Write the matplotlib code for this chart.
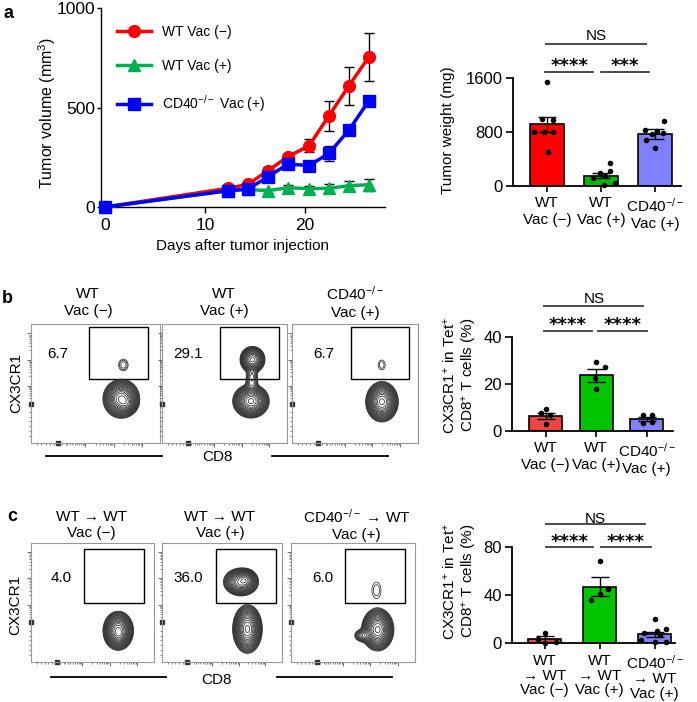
import numpy as np
import matplotlib
matplotlib.use("Agg")
import matplotlib.pyplot as plt
from matplotlib.lines import Line2D
from matplotlib.patches import Rectangle

plt.rcParams['font.family'] = ['Liberation Sans', 'DejaVu Sans']
plt.rcParams['mathtext.fontset'] = 'custom'
plt.rcParams['mathtext.rm'] = 'Liberation Sans'
plt.rcParams['mathtext.it'] = 'Liberation Sans:italic'
plt.rcParams['mathtext.bf'] = 'Liberation Sans:bold'
plt.rcParams['font.size'] = 11

# ---------------- data: panel a, tumor growth ----------------
days = [0, 12.3, 14.3, 16.3, 18.3, 20.4, 22.4, 24.4, 26.4]
wt_neg_vol = [0, 94, 114, 183, 253, 308, 459, 610, 755]
wt_neg_err = [0, 8, 10, 20, 15, 33, 76, 95, 120]
wt_pos_vol = [0, 82, 88, 82, 97, 92, 94, 107, 112]
wt_pos_err = [0, 5, 8, 10, 15, 15, 20, 25, 30]
cd40_vol = [0, 82, 90, 152, 216, 208, 270, 387, 535]
cd40_err = [0, 5, 8, 10, 12, 10, 38, 20, 22]
growth_labels = ['WT Vac (−)', 'WT Vac (+)', 'CD40$^{-/-}$ Vac (+)']

# ---------------- data: panel a, tumor weight ----------------
weight_means = [917, 155, 770]
weight_sem = [113, 43, 72]
weight_pts = [[1540, 990, 975, 800, 800, 795, 500],
              [340, 230, 190, 150, 120, 50, 10],
              [960, 830, 810, 790, 770, 690, 560]]
xlabels_ab = ['WT\nVac (−)', 'WT\nVac (+)', 'CD40$^{-/-}$\nVac (+)']

# ---------------- data: panel b ----------------
b_means = [6.5, 23.6, 5.0]
b_sem = [1.3, 2.7, 0.8]
b_pts = [[9.3, 7.5, 6.8, 3.0],
         [29.4, 27.0, 22.5, 17.7],
         [6.8, 6.6, 3.5, 3.9]]
b_flow_pct = [6.7, 29.1, 6.7]
b_titles = ['WT\nVac (−)', 'WT\nVac (+)', 'CD40$^{-/-}$\nVac (+)']

# ---------------- data: panel c ----------------
c_means = [3.6, 47.2, 7.5]
c_sem = [2.7, 7.8, 2.2]
c_pts = [[9.0, 4.0, 1.0, 0.5],
         [68.8, 45.5, 41.0, 36.5],
         [20, 12, 10.5, 9, 7, 3, 1.5, 1]]
c_flow_pct = [4.0, 36.0, 6.0]
c_titles = ['WT → WT\nVac (−)', 'WT → WT\nVac (+)', 'CD40$^{-/-}$ → WT\nVac (+)']
xlabels_c = ['WT\n→ WT\nVac (−)', 'WT\n→ WT\nVac (+)', 'CD40$^{-/-}$\n→ WT\nVac (+)']

# flow populations: (cx, cy, sx, sy, weight) on a 0-1 display scale
b_pops = [
    [(0.70, 0.37, 0.046, 0.053, 1.0), (0.74, 0.33, 0.03, 0.03, 0.3), (0.716, 0.655, 0.03, 0.04, 0.017)],
    [(0.713, 0.35, 0.047, 0.046, 1.0), (0.725, 0.70, 0.034, 0.038, 0.6), (0.72, 0.53, 0.024, 0.06, 0.05)],
    [(0.717, 0.345, 0.042, 0.055, 1.0), (0.715, 0.655, 0.028, 0.042, 0.013)],
]
c_pops = [
    [(0.71, 0.26, 0.04, 0.053, 1.0), (0.72, 0.22, 0.025, 0.03, 0.2)],
    [(0.66, 0.67, 0.05, 0.04, 0.6), (0.70, 0.69, 0.03, 0.03, 0.3), (0.714, 0.275, 0.04, 0.066, 1.0)],
    [(0.70, 0.27, 0.042, 0.058, 1.0), (0.59, 0.22, 0.035, 0.025, 0.08), (0.69, 0.60, 0.037, 0.07, 0.013)],
]

# ---------------- figure ----------------
W, H = 697, 702
fig = plt.figure(figsize=(W / 100, H / 100), dpi=100)


def fax(l, t, r, b):
    return fig.add_axes([l / W, 1 - b / H, (r - l) / W, (b - t) / H])


def ftext(x, y, s, **kw):
    return fig.text(x / W, 1 - y / H, s, **kw)


def fline(x1, x2, y, **kw):
    fig.add_artist(Line2D([x1 / W, x2 / W], [1 - y / H, 1 - y / H], **kw))


# ---- panel a: growth curves ----
ax = fax(101, 8, 385, 207)
series = [(wt_neg_vol, wt_neg_err, '#FF0000', 'o', 8.5),
          (wt_pos_vol, wt_pos_err, '#00B050', '^', 8.5),
          (cd40_vol, cd40_err, '#0000FF', 's', 8.0)]
for (vals, errs, col, mk, ms), lab in zip(series, growth_labels):
    ax.errorbar(days[1:], vals[1:], yerr=errs[1:], fmt='none', ecolor='black',
                elinewidth=1.0, capsize=3.5, capthick=1.0, zorder=2)
    ax.plot(days, vals, color=col, marker=mk, ms=ms, lw=2.5, label=lab,
            clip_on=False, zorder=3)
ax.set_xlim(-0.4, 28.0)
ax.set_ylim(0, 1000)
ax.set_xticks([0, 10, 20])
ax.set_yticks([0, 500, 1000])
for s in ['top', 'right']:
    ax.spines[s].set_visible(False)
for s in ['left', 'bottom']:
    ax.spines[s].set_linewidth(1.0)
ax.tick_params(axis='both', labelsize=12.5)
ax.tick_params(axis='y', length=3, width=1, pad=1)
ax.tick_params(axis='x', length=4, width=1, pad=4)
ax.legend(loc='upper left', bbox_to_anchor=(0.055, 0.915), frameon=False,
          borderpad=0, borderaxespad=0, handlelength=2.45, handletextpad=0.85,
          labelspacing=1.45, fontsize=10)
ftext(242, 246, 'Days after tumor injection', ha='center', va='center')
ftext(47, 113, 'Tumor volume (mm$^3$)', rotation=90, ha='center', va='center',
      fontsize=11.5)


# ---- bar charts ----
def bar_chart(rect, means, sems, pts, offs, colors, xlim, width, ylim, yticks, xlabels,
              lsp=1.22):
    ax = fax(*rect)
    x = np.arange(len(means))
    ax.bar(x, means, width, color=colors, edgecolor='black', linewidth=1.2, zorder=1)
    ax.errorbar(x, means, yerr=sems, fmt='none', ecolor='black', elinewidth=1.0,
                capsize=6.5, capthick=1.0, zorder=2)
    for i in range(len(means)):
        ax.scatter(i + np.array(offs[i]), pts[i], s=16, color='black', zorder=3,
                   linewidths=0, clip_on=False)
    ax.set_xlim(*xlim)
    ax.set_ylim(*ylim)
    ax.set_yticks(yticks)
    ax.set_xticks(x)
    ax.set_xticklabels(xlabels, linespacing=lsp)
    for s in ['top', 'right']:
        ax.spines[s].set_visible(False)
    for s in ['left', 'bottom']:
        ax.spines[s].set_linewidth(1.3)
    ax.tick_params(axis='y', length=5, width=1.2, pad=2, labelsize=12)
    ax.tick_params(axis='x', length=4, width=1.2, pad=3.5)
    return ax


def sig(y, x1, x2, txt, star):
    fline(x1, x2, y, color='#3a3a3a', lw=1.3)
    if star:
        ftext((x1 + x2) / 2, y - 0.5, txt, ha='center', va='baseline', fontsize=13,
              fontweight='bold', family='DejaVu Sans')


a_offs = [[0, -0.1, 0.12, -0.25, -0.05, 0.12, 0.02],
          [0.16, 0.17, -0.02, 0.08, -0.15, 0.25, 0.05],
          [0.17, -0.18, 0.03, 0.15, -0.05, -0.17, 0.0]]
bar_chart((512.7, 78.3, 681, 186), weight_means, weight_sem, weight_pts, a_offs,
          ['#FF0000', '#00BB00', '#8080FF'], (-0.635, 2.48), 0.63, (0, 1600),
          [0, 800, 1600], xlabels_ab)
ftext(448, 130, 'Tumor weight (mg)', rotation=90, ha='center', va='center')
ftext(596, 40, 'NS', ha='center', va='baseline')
sig(44, 546, 646, '', False)
sig(71.7, 545, 593.3, '****', True)
sig(71.7, 601, 649.3, '***', True)

b_offs = [[0, -0.1, 0.08, 0], [0, 0.18, -0.02, 0], [-0.07, 0.1, -0.07, 0.1]]
bar_chart((511.7, 336.7, 673, 431), b_means, b_sem, b_pts, b_offs,
          ['#EE4444', '#00C400', '#8282F8'], (-0.67, 2.52), 0.65, (0, 40),
          [0, 20, 40], xlabels_ab)
ftext(460, 375, 'CX3CR1$^{+}$ in Tet$^{+}$\nCD8$^{+}$ T cells (%)', rotation=90,
      ha='center', va='center', linespacing=1.15)
ftext(594, 303.3, 'NS', ha='center', va='baseline')
sig(305.7, 544.3, 643.3, '', False)
sig(330.7, 544, 591.7, '****', True)
sig(330.7, 598, 647, '****', True)

c_offs = [[0, -0.12, 0.2, 0], [0, 0.15, 0, -0.15],
          [0, 0.2, 0.05, -0.2, 0.1, -0.25, 0.0, 0.2]]
bar_chart((511.7, 547.3, 675, 643.3), c_means, c_sem, c_pts, c_offs,
          ['#EE4444', '#00C400', '#8282F8'], (-0.6, 2.37), 0.6, (0, 80),
          [0, 40, 80], xlabels_c, lsp=1.08)
ftext(460, 581, 'CX3CR1$^{+}$ in Tet$^{+}$\nCD8$^{+}$ T cells (%)', rotation=90,
      ha='center', va='center', linespacing=1.15)
ftext(595.5, 523, 'NS', ha='center', va='baseline')
sig(524, 546, 645, '', False)
sig(547.3, 546, 593.3, '****', True)
sig(547.3, 601, 651, '****', True)

# ---- flow plots ----
levels = np.geomspace(0.008, 0.9, 19)
grid = np.linspace(0, 1, 300)
GX, GY = np.meshgrid(grid, grid)


def log_ticks(majors, lin_start, lin_end, n_lin):
    t = list(np.linspace(lin_start, lin_end, n_lin))
    for m in majors:
        for k in range(2, 10):
            t.append(m - 0.2 + 0.2 * np.log10(k))
    return t


def flow_panel(rect, pops, gate, pct, pct_xy):
    ax = fax(*rect)
    Z = np.zeros_like(GX)
    for cx, cy, sx, sy, w in pops:
        Z += w * np.exp(-((GX - cx) ** 2 / (2 * sx ** 2) + (GY - cy) ** 2 / (2 * sy ** 2)))
    ax.contour(GX, GY, Z, levels=levels, colors='#2a2a2a', linewidths=0.55)
    ax.add_patch(Rectangle((gate[0], gate[2]), gate[1] - gate[0], gate[3] - gate[2],
                           fill=False, ec='black', lw=1.0))
    ax.text(pct_xy[0], pct_xy[1], f'{pct:.1f}', ha='center', va='center', fontsize=11,
            transform=ax.transAxes)
    ax.set_xlim(0, 1)
    ax.set_ylim(0, 1)
    for s in ax.spines.values():
        s.set_color('#999999')
        s.set_linewidth(0.8)
    ax.set_xticks([0.42, 0.64, 0.86])
    ax.set_yticks([0.48, 0.70, 0.92])
    ax.set_xticks(log_ticks([0.42, 0.64, 0.86], 0.05, 0.30, 9), minor=True)
    ax.set_yticks(log_ticks([0.48, 0.70, 0.92], 0.06, 0.26, 6), minor=True)
    ax.set_xticklabels([])
    ax.set_yticklabels([])
    ax.tick_params(which='major', length=3, width=0.6, color='#555555', direction='out')
    ax.tick_params(which='minor', length=1.6, width=0.5, color='#555555', direction='out')
    ax.plot([0.21], [0], marker='s', ms=2.5, color='#333333', clip_on=False, transform=ax.transAxes)
    ax.plot([0], [0.33], marker='s', ms=2.5, color='#333333', clip_on=False, transform=ax.transAxes)
    return ax


b_rects = [(31, 324, 160, 442.7), (161.5, 324, 287, 442.7), (292, 324, 417.5, 442.7)]
b_gates = [(0.447, 0.905, 0.534, 0.977), (0.469, 0.936, 0.534, 0.977), (0.468, 0.935, 0.534, 0.977)]
b_pct_xy = [(0.21, 0.747), (0.214, 0.747), (0.25, 0.747)]
for r, p, g, v, xy in zip(b_rects, b_pops, b_gates, b_flow_pct, b_pct_xy):
    flow_panel(r, p, g, v, xy)
for xc, t in zip([88.3, 224, 355], b_titles):
    ftext(xc, 302.5, t, ha='center', va='center', linespacing=1.25)
fline(45.7, 161.7, 455.7, color='black', lw=1.3)
fline(272, 387.7, 455.7, color='black', lw=1.3)
ftext(218, 457, 'CD8', ha='center', va='center')
ftext(16.7, 383, 'CX3CR1', rotation=90, ha='center', va='center')

c_rects = [(30.7, 542.7, 154, 661.7), (162, 542.7, 281.7, 661.7), (290.7, 542.7, 415, 661.7)]
c_gates = [(0.435, 0.921, 0.49, 0.947), (0.449, 0.952, 0.49, 0.947), (0.437, 0.92, 0.49, 0.947)]
c_pct_xy = [(0.251, 0.706), (0.22, 0.706), (0.257, 0.706)]
for r, p, g, v, xy in zip(c_rects, c_pops, c_gates, c_flow_pct, c_pct_xy):
    flow_panel(r, p, g, v, xy)
for xc, t in zip([91, 220, 356.7], c_titles):
    ftext(xc, 525, t, ha='center', va='center', linespacing=1.25)
fline(50.7, 165.7, 676.7, color='black', lw=1.3)
fline(276.7, 392.3, 676.7, color='black', lw=1.3)
ftext(216.7, 680, 'CD8', ha='center', va='center')
ftext(15, 605, 'CX3CR1', rotation=90, ha='center', va='center')

# panel letters
ftext(3, 18.3, 'a', fontsize=13, fontweight='bold', va='baseline')
ftext(1.5, 303.3, 'b', fontsize=13, fontweight='bold', va='baseline')
ftext(7.5, 520.7, 'c', fontsize=13, fontweight='bold', va='baseline')

fig.savefig('out.png', dpi=100)
